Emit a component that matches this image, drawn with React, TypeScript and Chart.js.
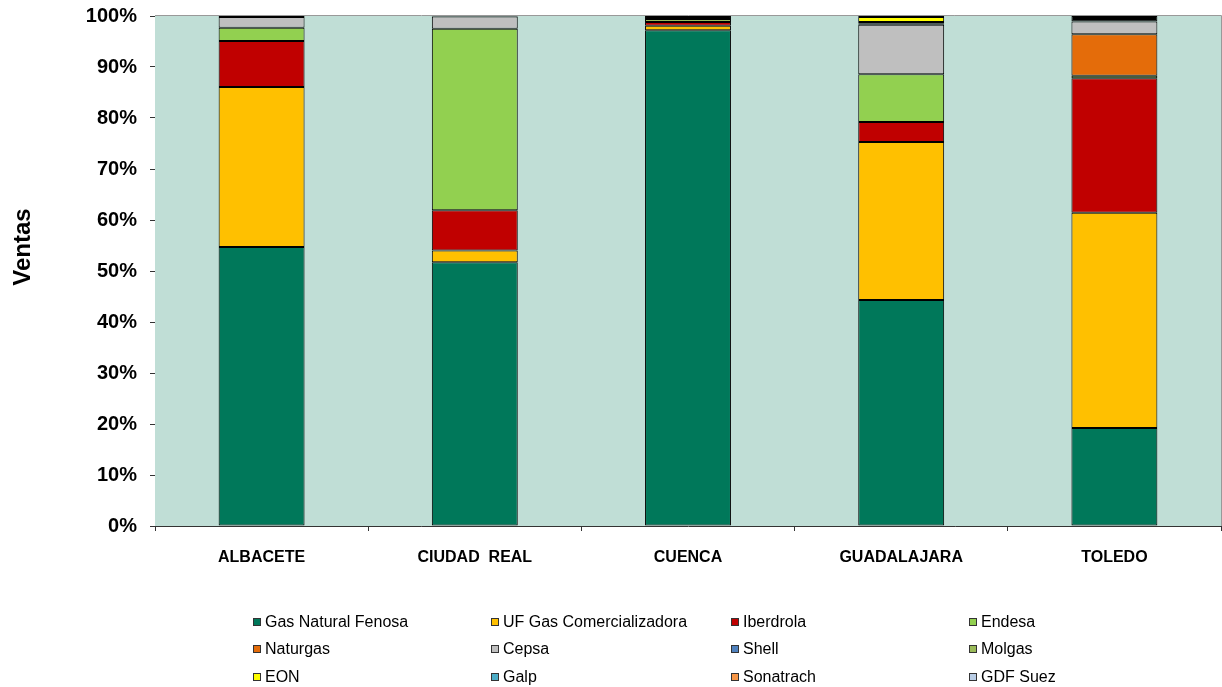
import { useEffect, useRef } from 'react';
import { Chart, registerables } from 'chart.js';

Chart.register(...registerables);

const categories = ['ALBACETE', 'CIUDAD  REAL', 'CUENCA', 'GUADALAJARA', 'TOLEDO'];

const seriesNames = [
  'Gas Natural Fenosa', 'UF Gas Comercializadora', 'Iberdrola', 'Endesa',
  'Naturgas', 'Cepsa', 'Shell', 'Molgas',
  'EON', 'Galp', 'Sonatrach', 'GDF Suez', 'Otros',
];
const seriesColors = [
  '#00785A', '#FFC000', '#C00000', '#92D050',
  '#E46C0A', '#BFBFBF', '#4F81BD', '#9BBB59',
  '#FFFF00', '#4BACC6', '#F79646', '#B9CDE5', '#000000',
];

const gasNaturalFenosa = [54.7, 51.7, 97.2, 44.3, 19.2];
const ufGas = [31.4, 2.3, 0.9, 31.0, 42.2];
const iberdrola = [9.0, 7.9, 0.7, 3.9, 26.4];
const endesa = [2.6, 35.6, null, 9.4, 0.5];
const naturgas = [null, null, null, null, 8.1];
const cepsa = [2.1, 2.4, null, 9.7, 2.5];
const shell = [null, null, null, 0.3, null];
const molgas = [null, null, 0.6, 0.2, null];
const eon = [null, null, null, 1.0, null];
const galp = [null, null, null, null, null];
const sonatrach = [null, null, null, null, null];
const gdfSuez = [null, null, null, null, null];
const otros = [0.2, 0.1, 0.6, 0.2, 1.1];

const seriesValues = [
  gasNaturalFenosa, ufGas, iberdrola, endesa,
  naturgas, cepsa, shell, molgas,
  eon, galp, sonatrach, gdfSuez, otros,
];

const yTicks = [0, 10, 20, 30, 40, 50, 60, 70, 80, 90, 100];
const yTitle = 'Ventas';

const FONT = '"Liberation Sans", Arial, sans-serif';

const plotBg = {
  id: 'plotBg',
  beforeDatasetsDraw(chart: any) {
    const { ctx, chartArea: a } = chart;
    ctx.save();
    ctx.fillStyle = '#C0DED6';
    ctx.fillRect(a.left, a.top, a.right - a.left, a.bottom - a.top);
    ctx.strokeStyle = '#999999';
    ctx.lineWidth = 1;
    ctx.beginPath();
    ctx.moveTo(a.left, a.top - 0.5);
    ctx.lineTo(a.right + 0.5, a.top - 0.5);
    ctx.lineTo(a.right + 0.5, a.bottom);
    ctx.stroke();
    ctx.restore();
  },
  afterDraw(chart: any) {
    const { ctx } = chart;
    ctx.save();
    ctx.translate(23, 247);
    ctx.rotate(-Math.PI / 2);
    ctx.fillStyle = '#000000';
    ctx.font = `bold 24px ${FONT}`;
    ctx.textAlign = 'center';
    ctx.textBaseline = 'middle';
    ctx.fillText(yTitle, 0, 0);
    ctx.restore();
  },
};

const legendCols = [253, 491, 731, 969];
const legendRows = [622, 649, 677];

export default function App() {
  const ref = useRef<HTMLCanvasElement>(null);

  useEffect(() => {
    const canvas = ref.current;
    if (!canvas) return;
    const chart = new Chart(canvas, {
      type: 'bar',
      data: {
        labels: categories,
        datasets: seriesNames.map((name, i) => ({
          label: name,
          data: seriesValues[i],
          backgroundColor: seriesColors[i],
          borderColor: '#000000',
          borderWidth: 1,
          borderSkipped: false,
          barPercentage: 0.403,
          categoryPercentage: 1,
        })),
      },
      options: {
        responsive: false,
        animation: false,
        devicePixelRatio: 1,
        layout: { padding: { top: 16, right: 1, left: 0, bottom: 0 } },
        plugins: {
          legend: { display: false },
          tooltip: { enabled: false },
        },
        scales: {
          x: {
            stacked: true,
            grid: {
              display: true,
              drawOnChartArea: false,
              drawTicks: true,
              tickLength: 5,
              color: '#333333',
              offset: true,
            },
            border: { display: true, color: '#333333', width: 1 },
            ticks: {
              color: '#000000',
              font: { family: FONT, size: 16, weight: 'bold' },
              padding: 17,
              maxRotation: 0,
            },
            afterFit: (s: any) => { s.height = 161; s.paddingLeft = 0; s.paddingRight = 0; },
          },
          y: {
            stacked: true,
            min: 0,
            max: 100,
            afterBuildTicks: (s: any) => { s.ticks = yTicks.map((v) => ({ value: v })); },
            grid: {
              display: true,
              drawOnChartArea: false,
              drawTicks: true,
              tickLength: 5,
              color: '#333333',
            },
            border: { display: true, color: '#333333', width: 1 },
            ticks: {
              color: '#000000',
              font: { family: FONT, size: 20, weight: 'bold' },
              padding: 13,
              callback: (v: any) => `${v}%`,
            },
            afterFit: (s: any) => { s.width = 155; s.paddingTop = 0; s.paddingBottom = 0; },
          },
        },
      },
      plugins: [plotBg],
    });
    return () => chart.destroy();
  }, []);

  return (
    <div style={{ position: 'fixed', left: 0, top: 0, width: 1222, height: 687, background: '#ffffff', overflow: 'hidden' }}>
      <canvas ref={ref} width={1222} height={687} style={{ position: 'absolute', left: 0, top: 0, width: 1222, height: 687 }} />
      {seriesNames.slice(0, 12).map((name, i) => {
        const col = i % 4;
        const row = Math.floor(i / 4);
        return (
          <div
            key={name}
            style={{
              position: 'absolute',
              left: legendCols[col],
              top: legendRows[row] - 10,
              height: 20,
              display: 'flex',
              alignItems: 'center',
              fontFamily: FONT,
              fontSize: 16,
              color: '#000000',
              whiteSpace: 'nowrap',
            }}
          >
            <span
              style={{
                display: 'inline-block',
                width: 6,
                height: 6,
                background: seriesColors[i],
                border: '1px solid #333333',
                marginRight: 4,
              }}
            />
            <span>{name}</span>
          </div>
        );
      })}
    </div>
  );
}
